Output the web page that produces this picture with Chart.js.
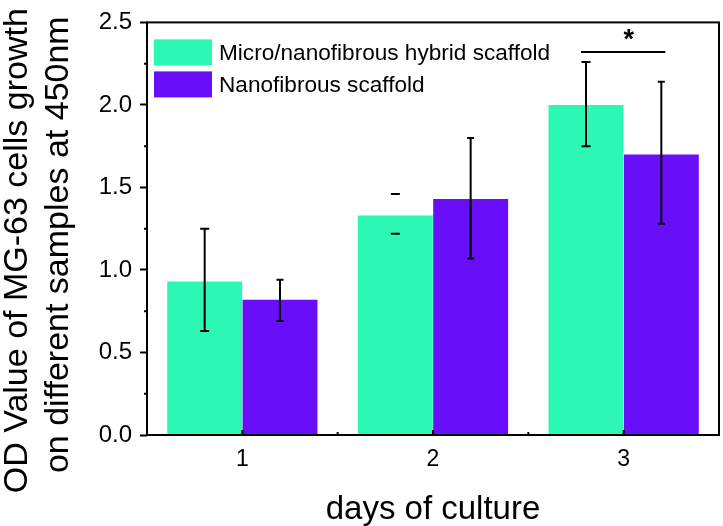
<!DOCTYPE html>
<html>
<head>
<meta charset="utf-8">
<script src="https://cdn.jsdelivr.net/npm/chart.js@4.4.1/dist/chart.umd.min.js"></script>
<style>
  html, body { margin: 0; padding: 0; background: #fff; }
  #wrap { width: 723px; height: 526px; }
</style>
</head>
<body>
<div id="wrap"><canvas id="odChart" width="723" height="526"></canvas></div>
<script>
// data
const days = ['1', '2', '3'];
const seriesNames = ['Micro/nanofibrous hybrid scaffold', 'Nanofibrous scaffold'];
const hybridMeans = [0.93, 1.33, 2.0];
const hybridLow = [0.63, 1.22, 1.75];
const hybridHigh = [1.25, 1.46, 2.26];
const hybridStem = [true, false, true];
const nanoMeans = [0.82, 1.43, 1.70];
const nanoLow = [0.69, 1.07, 1.28];
const nanoHigh = [0.94, 1.80, 2.14];
const nanoStem = [true, true, true];
const yTicks = [0, 0.5, 1.0, 1.5, 2.0, 2.5];
const yTitle = ['OD Value of MG-63 cells growth', 'on different samples at 450nm'];
const xTitle = 'days of culture';
// significance bracket on day 3
const sigDay = 2;
const sigLevel = 2.32;
const sigMark = '*';

const FONT = '"Liberation Sans", Arial, sans-serif';
const green = '#2cf7b4';
const purple = '#680ef8';

const errors = [
  { low: hybridLow, high: hybridHigh, stem: hybridStem, cap: 9 },
  { low: nanoLow, high: nanoHigh, stem: nanoStem, cap: 7 }
];

// Error bars, frame, ticks, legend, bracket, y title
const decorations = {
  id: 'decorations',
  afterDatasetsDraw(chart) {
    const ctx = chart.ctx;
    const area = chart.chartArea;
    const y = chart.scales.y;
    const x = chart.scales.x;

    ctx.save();
    ctx.strokeStyle = '#000';
    ctx.lineWidth = 2;

    // error bars
    errors.forEach((err, i) => {
      const meta = chart.getDatasetMeta(i);
      meta.data.forEach((bar, j) => {
        const yl = y.getPixelForValue(err.low[j]);
        const yh = y.getPixelForValue(err.high[j]);
        ctx.beginPath();
        if (err.stem[j]) {
          ctx.moveTo(bar.x, yl);
          ctx.lineTo(bar.x, yh);
        }
        ctx.moveTo(bar.x - err.cap / 2, yl);
        ctx.lineTo(bar.x + err.cap / 2, yl);
        ctx.moveTo(bar.x - err.cap / 2, yh);
        ctx.lineTo(bar.x + err.cap / 2, yh);
        ctx.stroke();
      });
    });

    // frame
    ctx.strokeRect(area.left, area.top, area.right - area.left, area.bottom - area.top);

    // y minor ticks (outside)
    ctx.beginPath();
    for (let k = 0; k < yTicks.length - 1; k++) {
      const py = y.getPixelForValue((yTicks[k] + yTicks[k + 1]) / 2);
      ctx.moveTo(area.left - 3, py);
      ctx.lineTo(area.left, py);
    }
    // x ticks (inside)
    days.forEach((d, j) => {
      const px = x.getPixelForTick(j);
      ctx.moveTo(px, area.bottom);
      ctx.lineTo(px, area.bottom - 5);
      if (j < days.length - 1) {
        const mid = (px + x.getPixelForTick(j + 1)) / 2;
        ctx.moveTo(mid, area.bottom);
        ctx.lineTo(mid, area.bottom - 3);
      }
    });
    ctx.stroke();

    // legend
    ctx.font = '22.6px ' + FONT;
    ctx.textBaseline = 'middle';
    chart.data.datasets.forEach((ds, i) => {
      const bx = area.left + 7;
      const by = area.top + 17 + i * 32;
      ctx.fillStyle = ds.backgroundColor;
      ctx.fillRect(bx, by, 58, 26);
      ctx.fillStyle = '#000';
      ctx.fillText(ds.label, bx + 65, by + 14);
    });

    // significance bracket
    const g = chart.getDatasetMeta(0).data[sigDay];
    const n = chart.getDatasetMeta(1).data[sigDay];
    const sy = y.getPixelForValue(sigLevel);
    ctx.beginPath();
    ctx.moveTo(g.x - 5, sy);
    ctx.lineTo(n.x + 4, sy);
    ctx.stroke();
    ctx.font = 'bold 27px ' + FONT;
    ctx.textAlign = 'center';
    ctx.textBaseline = 'alphabetic';
    ctx.fillText(sigMark, (g.x + n.x) / 2 + 5, sy - 4);

    // y axis title
    const midY = (area.top + area.bottom) / 2 + 19;
    ctx.font = '34px ' + FONT;
    ctx.translate(area.left - 120, midY);
    ctx.rotate(-Math.PI / 2);
    ctx.fillText(yTitle[0], -3, 0);
    ctx.fillText(yTitle[1], 3, 41);
    ctx.restore();
  }
};

new Chart(document.getElementById('odChart'), {
  type: 'bar',
  data: {
    labels: days,
    datasets: [{
      label: seriesNames[0],
      data: hybridMeans,
      backgroundColor: green,
      borderWidth: 0,
      categoryPercentage: 0.79,
      barPercentage: 0.995
    }, {
      label: seriesNames[1],
      data: nanoMeans,
      backgroundColor: purple,
      borderWidth: 0,
      categoryPercentage: 0.79,
      barPercentage: 0.995
    }]
  },
  options: {
    responsive: false,
    animation: false,
    layout: { padding: { left: 0, right: 4, top: 14, bottom: 0 } },
    plugins: {
      legend: { display: false },
      tooltip: { enabled: false }
    },
    scales: {
      x: {
        offset: true,
        border: { display: false },
        grid: { display: false },
        ticks: { color: '#000', font: { family: FONT, size: 23 }, padding: 3 },
        title: {
          display: true,
          text: xTitle,
          color: '#000',
          font: { family: FONT, size: 33, lineHeight: 0.75 }
        },
        afterFit: scale => { scale.height = 91; }
      },
      y: {
        min: 0,
        max: 2.5,
        border: { display: false },
        grid: { drawOnChartArea: false, tickLength: 7, tickWidth: 2, tickColor: '#000' },
        afterBuildTicks: scale => { scale.ticks = yTicks.map(v => ({ value: v })); },
        ticks: {
          color: '#000',
          padding: 8,
          font: { family: FONT, size: 24 },
          callback: v => v.toFixed(1)
        },
        afterFit: scale => { scale.width = 147; }
      }
    }
  },
  plugins: [decorations]
});
</script>
</body>
</html>
